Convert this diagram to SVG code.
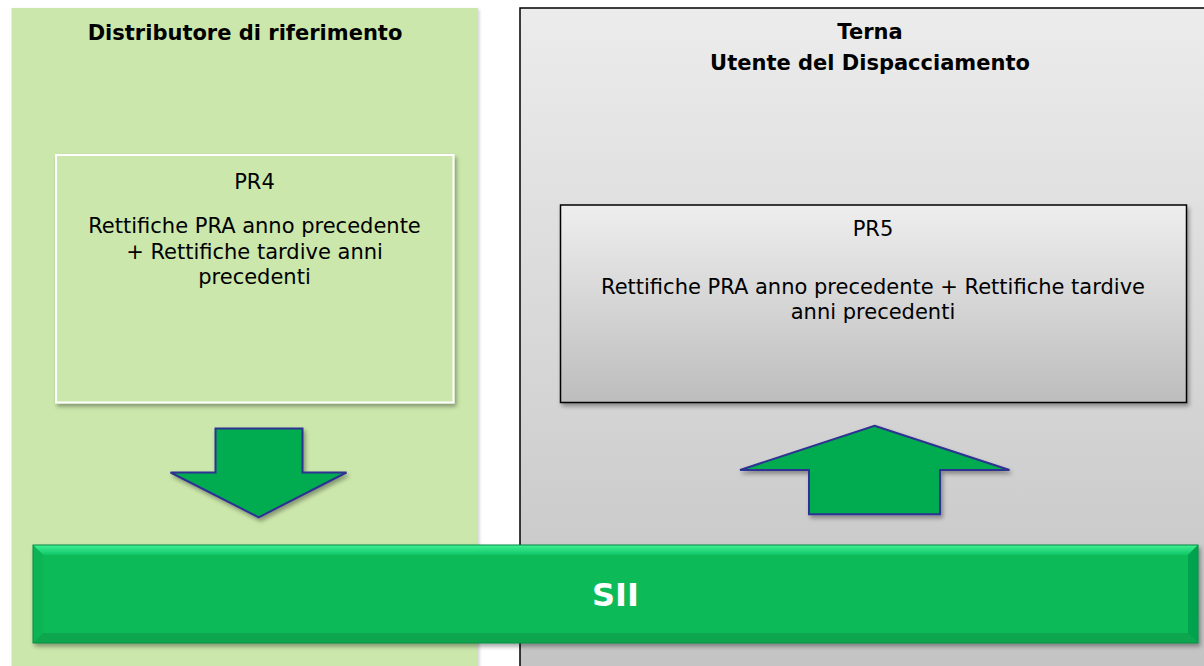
<svg xmlns="http://www.w3.org/2000/svg" width="1204" height="666" viewBox="0 0 1204 666">
  <defs>
    <linearGradient id="grayPanel" x1="0" y1="0" x2="0" y2="1">
      <stop offset="0" stop-color="#ececec"/>
      <stop offset="1" stop-color="#c3c3c3"/>
    </linearGradient>
    <linearGradient id="grayBox" gradientUnits="userSpaceOnUse" x1="0" y1="205" x2="0" y2="402">
      <stop offset="0" stop-color="#eeeeee"/>
      <stop offset="1" stop-color="#bdbdbd"/>
    </linearGradient>
    <linearGradient id="bevelTop" x1="0" y1="0" x2="0" y2="1">
      <stop offset="0" stop-color="#3ff295"/>
      <stop offset="1" stop-color="#12c565"/>
    </linearGradient>
    <filter id="sh" x="-10%" y="-10%" width="125%" height="130%">
      <feDropShadow dx="2" dy="3" stdDeviation="2.2" flood-color="#000" flood-opacity="0.35"/>
    </filter>
    <filter id="shSoft" x="-5%" y="-5%" width="110%" height="110%">
      <feDropShadow dx="1.5" dy="1.5" stdDeviation="1.5" flood-color="#000" flood-opacity="0.18"/>
    </filter>
  </defs>
  <style>
    .hdr { font-family: "DejaVu Sans", Verdana, sans-serif; font-weight: bold; font-size: 21px; fill: #000; text-anchor: middle; }
    .txt { font-family: "DejaVu Sans", Verdana, sans-serif; font-size: 21px; fill: #000; text-anchor: middle; }
    .sii { font-family: "DejaVu Sans", Verdana, sans-serif; font-weight: bold; font-size: 32px; fill: #ffffff; text-anchor: middle; }
    .arrow { fill: #00ac50; stroke: #2e3192; stroke-width: 2; stroke-linejoin: miter; }
  </style>

  <rect x="0" y="0" width="1204" height="666" fill="#ffffff"/>

  <g id="panel-distributore">
    <rect x="11.5" y="8" width="466.5" height="670" fill="#cbe7ab" filter="url(#shSoft)"/>
    <text class="hdr" x="245" y="40">Distributore di riferimento</text>
  </g>

  <g id="panel-terna">
    <rect x="520" y="8" width="700" height="670" fill="url(#grayPanel)" stroke="#000" stroke-width="1.5"/>
    <text class="hdr" x="870" y="39">Terna</text>
    <text class="hdr" x="870" y="70">Utente del Dispacciamento</text>
  </g>

  <g id="node-pr4">
    <rect x="56" y="155" width="397.5" height="247.5" fill="#cbe7ab" stroke="#ffffff" stroke-width="2" filter="url(#sh)"/>
    <text class="txt" x="254.5" y="188.5">PR4</text>
    <text class="txt" x="254.5" y="233">Rettifiche PRA anno precedente</text>
    <text class="txt" x="254.5" y="258.5">+ Rettifiche tardive anni</text>
    <text class="txt" x="254.5" y="284">precedenti</text>
  </g>

  <g id="node-pr5">
    <rect x="560.5" y="205" width="626" height="197.5" fill="url(#grayBox)" stroke="#000" stroke-width="1.5" filter="url(#sh)"/>
    <text class="txt" x="873" y="235.5">PR5</text>
    <text class="txt" x="873" y="293.5">Rettifiche PRA anno precedente + Rettifiche tardive</text>
    <text class="txt" x="873" y="318.5">anni precedenti</text>
  </g>

  <g id="connectors">
    <polygon class="arrow" filter="url(#sh)" points="215.5,428.5 302.5,428.5 302.5,472.5 346.5,472.5 258.7,517.3 170.5,472.5 215.5,472.5"/>
    <polygon class="arrow" filter="url(#sh)" points="874.5,425.7 1009.5,470 940,470 940,514.3 809,514.3 809,470 740,470"/>
  </g>

  <g id="node-sii">
    <g filter="url(#sh)">
      <rect x="33" y="545" width="1165" height="98" fill="#08ba58"/>
      <polygon points="33,545 1198,545 1188,555 43,555" fill="url(#bevelTop)"/>
      <polygon points="33,545 43,555 43,633 33,643" fill="#0cb457"/>
      <polygon points="1198,545 1198,643 1188,633 1188,555" fill="#06a24d"/>
      <polygon points="33,643 43,633 1188,633 1198,643" fill="#07a64f"/>
      <rect x="33" y="545" width="1165" height="98" fill="none" stroke="#0b8a44" stroke-width="1"/>
    </g>
    <text class="sii" x="615.5" y="606">SII</text>
  </g>
</svg>
